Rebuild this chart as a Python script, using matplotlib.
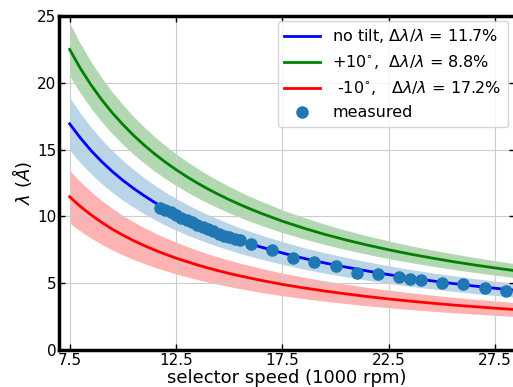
"""Velocity selector wavelength vs speed, with tilt bands and measured points."""

import matplotlib
matplotlib.use('Agg')
import matplotlib.pyplot as plt

# selector speed (1000 rpm) for the model curves
speed = [7.5, 8.0, 8.5, 9.0, 9.5, 10.0, 10.5, 11.0, 11.5, 12.0, 12.5, 13.0, 13.5,
         14.0, 14.5, 15.0, 15.5, 16.0, 16.5, 17.5, 18.5, 19.5, 20.5, 21.5, 22.5,
         23.5, 24.5, 25.5, 26.5, 27.5, 28.5]

# wavelength (Angstrom)
lam_notilt = [16.93, 15.88, 14.94, 14.11, 13.37, 12.70, 12.10, 11.55, 11.04, 10.58,
              10.16, 9.77, 9.41, 9.07, 8.76, 8.47, 8.19, 7.94, 7.70, 7.26, 6.86,
              6.51, 6.20, 5.91, 5.64, 5.40, 5.18, 4.98, 4.79, 4.62, 4.46]
lam_plus10 = [22.50, 21.09, 19.85, 18.75, 17.76, 16.88, 16.07, 15.34, 14.67, 14.06,
              13.50, 12.98, 12.50, 12.05, 11.64, 11.25, 10.89, 10.55, 10.23, 9.64,
              9.12, 8.65, 8.23, 7.85, 7.50, 7.18, 6.89, 6.62, 6.37, 6.14, 5.92]
lam_minus10 = [11.47, 10.75, 10.12, 9.56, 9.05, 8.60, 8.19, 7.82, 7.48, 7.17,
               6.88, 6.62, 6.37, 6.14, 5.93, 5.73, 5.55, 5.38, 5.21, 4.91,
               4.65, 4.41, 4.20, 4.00, 3.82, 3.66, 3.51, 3.37, 3.25, 3.13, 3.02]

# relative resolution dlambda/lambda
res_notilt = 0.117
res_plus10 = 0.088
res_minus10 = 0.172

# measured points
meas_speed = [11.75, 12.0, 12.25, 12.5, 12.75, 13.0, 13.25, 13.5, 13.75, 14.0, 14.25,
              14.5, 14.75, 15.0, 15.25, 15.5, 16, 17, 18, 19, 20, 21, 22, 23, 23.5,
              24, 25, 26, 27, 28]
meas_lam = [10.65, 10.45, 10.30, 10.10, 9.90, 9.70, 9.55, 9.35, 9.20, 9.05, 8.90,
            8.70, 8.55, 8.45, 8.30, 8.20, 7.95, 7.50, 6.85, 6.55, 6.27, 5.80, 5.72,
            5.47, 5.30, 5.25, 5.02, 4.93, 4.65, 4.42]

fig = plt.figure(figsize=(5.13, 3.87), dpi=100)
ax = fig.add_axes([59 / 513, 37 / 387, 456 / 513, 334 / 387])

curves = [
    (lam_notilt, res_notilt, 'blue', '#1f77b4',
     r'no tilt, $\Delta\lambda/\lambda$ = 11.7%'),
    (lam_plus10, res_plus10, 'green', 'green',
     r'+10$^{\circ}$,  $\Delta\lambda/\lambda$ = 8.8%'),
    (lam_minus10, res_minus10, 'red', 'red',
     r' -10$^{\circ}$,   $\Delta\lambda/\lambda$ = 17.2%'),
]
for lam, res, color, band, label in curves:
    lo = [v * (1 - res) for v in lam]
    hi = [v * (1 + res) for v in lam]
    ax.fill_between(speed, lo, hi, color=band, alpha=0.3, linewidth=0)
    ax.plot(speed, lam, color=color, linewidth=2, label=label)

ax.plot(meas_speed, meas_lam, 'o', color='#1f77b4', markersize=8,
        label='measured', zorder=5)

ax.set_xlim(7, 28.43)
ax.set_ylim(0, 25)
ax.set_xticks([7.5, 12.5, 17.5, 22.5, 27.5])
ax.set_yticks([0, 5, 10, 15, 20, 25])
ax.grid(True, color='#cccccc', linewidth=0.8)
ax.tick_params(direction='in', top=True, right=True, length=4, width=1,
               labelsize=11, pad=2)
for s in ax.spines.values():
    s.set_linewidth(2.5)

ax.set_xlabel('selector speed (1000 rpm)', fontsize=13, labelpad=1)
ax.set_ylabel(r'$\lambda$ ($\AA$)', fontsize=13, labelpad=2)

ax.legend(loc='upper right', fontsize=11.5, handlelength=2.2, numpoints=1,
          borderaxespad=0.3, bbox_to_anchor=(0.995, 1.0))

fig.savefig('out.png', dpi=100)
